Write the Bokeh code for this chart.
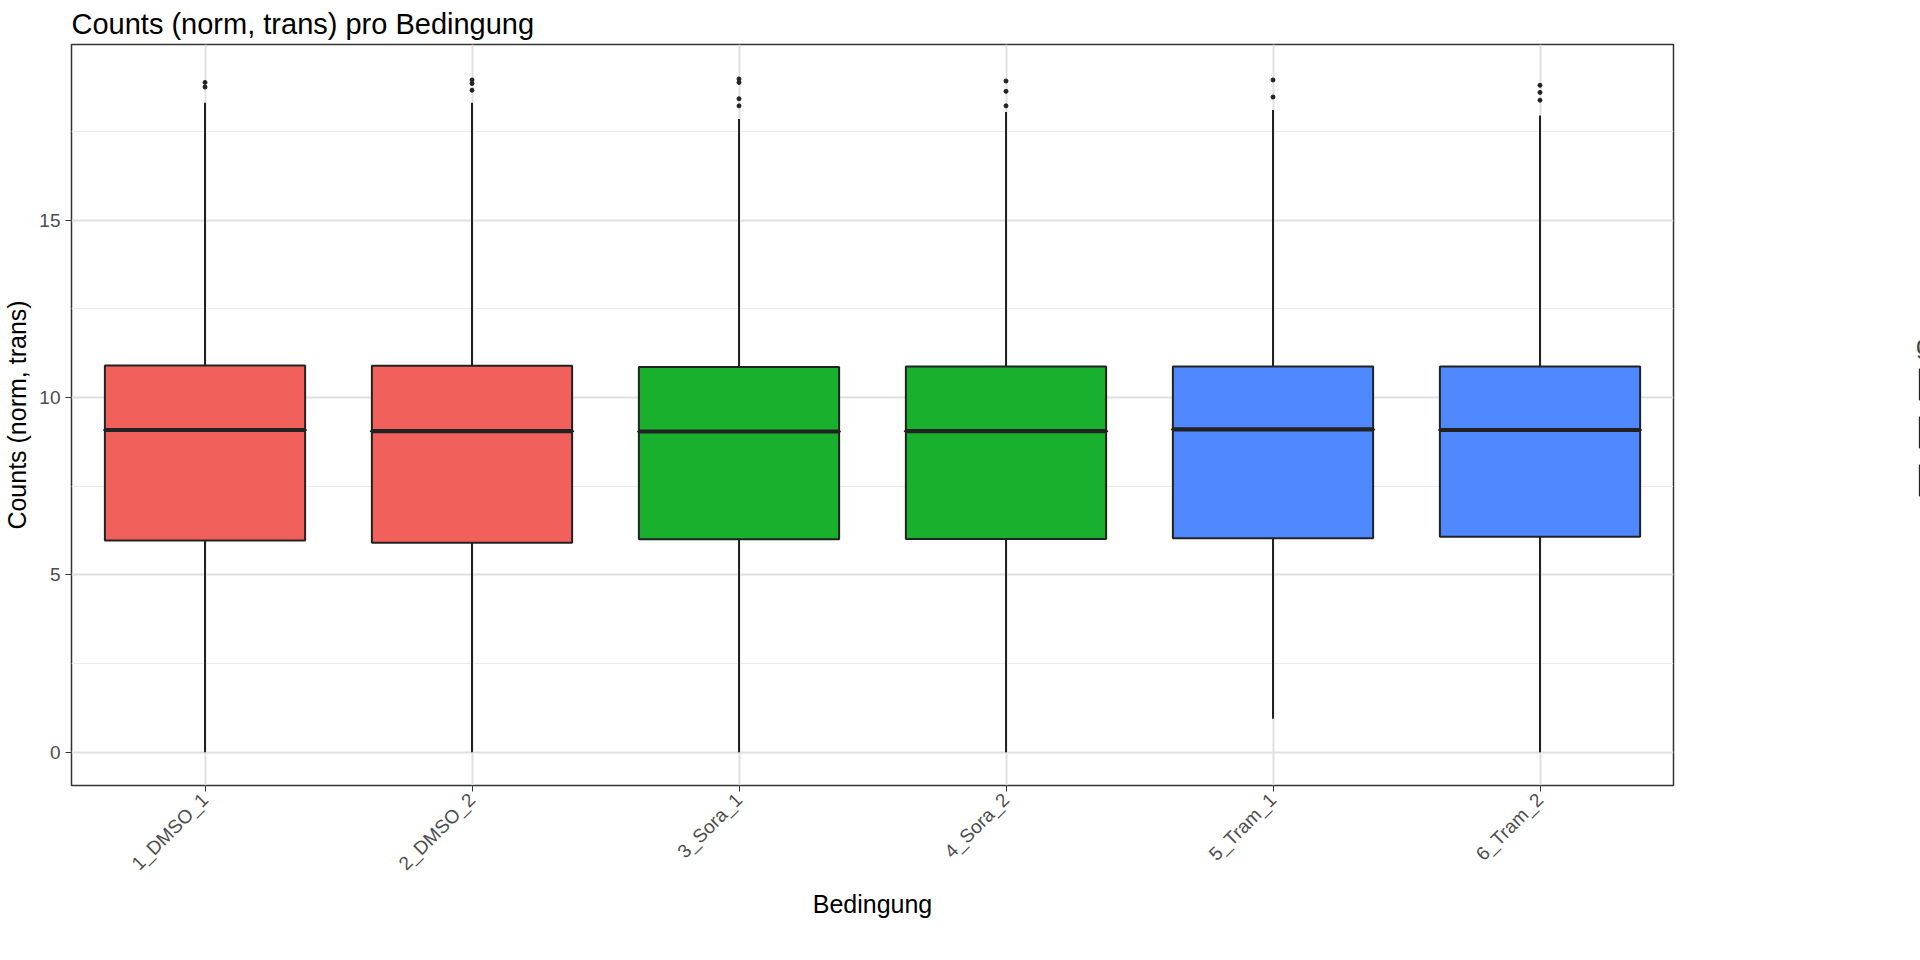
import math
from bokeh.plotting import figure
from bokeh.models import ColumnDataSource, FixedTicker, Range1d
from bokeh.embed import file_html
from bokeh.resources import INLINE

conds = ["1_DMSO_1", "2_DMSO_2", "3_Sora_1", "4_Sora_2", "5_Tram_1", "6_Tram_2"]
groups = ["DMSO", "DMSO", "Sorafenib", "Sorafenib", "Trametinib", "Trametinib"]
q1 = [5.97, 5.90, 6.00, 6.01, 6.03, 6.07]
med = [9.08, 9.05, 9.04, 9.05, 9.10, 9.08]
q3 = [10.90, 10.89, 10.86, 10.87, 10.87, 10.87]
wlo = [0.0, 0.0, 0.0, 0.0, 0.94, 0.0]
whi = [18.31, 18.31, 17.85, 18.05, 18.10, 17.95]
outliers = [[18.75, 18.88], [18.66, 18.85, 18.95], [18.22, 18.42, 18.88, 18.98],
            [18.22, 18.63, 18.92], [18.47, 18.95], [18.38, 18.60, 18.80]]
pal_fill = {"DMSO": "#F2605C", "Sorafenib": "#19B02E", "Trametinib": "#4F88FF"}

p = figure(x_range=conds, frame_width=1602, frame_height=741, output_backend="svg",
           toolbar_location=None, title="Counts (norm, trans) pro Bedingung",
           min_border_left=10, min_border_right=10, min_border_top=10, min_border_bottom=10)
p.y_range = Range1d(-0.94, 19.95)
p.title.text_font = "Liberation Sans"
p.title.text_font_style = "normal"
p.title.text_font_size = "29px"
p.title.text_color = "black"

src = ColumnDataSource(dict(x=conds, g=groups, q1=q1, q3=q3, med=med, wlo=wlo, whi=whi,
                            c=[pal_fill[g] for g in groups]))
p.segment("x", "wlo", "x", "q1", source=src, line_color="#222222", line_width=2)
p.segment("x", "q3", "x", "whi", source=src, line_color="#222222", line_width=2)
p.vbar(x="x", width=0.75, bottom="q1", top="q3", fill_color="c", line_color="#222222",
       line_width=2, source=src, legend_field="g")
p.rect(x="x", y="med", width=0.75, height=0.001, source=src, line_color="#222222", line_width=4)

ox, oy = [], []
for c, os in zip(conds, outliers):
    for v in os:
        ox.append(c); oy.append(v)
p.scatter(ox, oy, size=4, color="#222222")

legend = p.legend[0]
p.center.remove(legend)
legend.title = "group"
legend.title_text_font = "Liberation Sans"
legend.title_text_font_style = "normal"
legend.title_text_font_size = "25px"
legend.label_text_font = "Liberation Sans"
legend.label_text_font_size = "19px"
legend.border_line_color = None
legend.background_fill_alpha = 0
legend.glyph_width = 34
legend.glyph_height = 38
legend.spacing = 10
legend.location = "center"
p.add_layout(legend, "right")

p.xaxis.axis_label = "Bedingung"
p.yaxis.axis_label = "Counts (norm, trans)"
for ax in (p.xaxis[0], p.yaxis[0]):
    ax.axis_label_text_font = "Liberation Sans"
    ax.axis_label_text_font_size = "25px"
    ax.axis_label_text_font_style = "normal"
    ax.axis_label_text_color = "black"
    ax.major_label_text_font = "Liberation Sans"
    ax.major_label_text_font_size = "19px"
    ax.major_label_text_color = "#4D4D4D"
    ax.axis_line_color = None
    ax.major_tick_line_color = "#333333"
    ax.minor_tick_line_color = None
    ax.major_tick_out = 6
    ax.major_tick_in = 0
p.xaxis.major_label_orientation = math.pi / 4
p.yaxis.ticker = FixedTicker(ticks=[0, 5, 10, 15], minor_ticks=[2.5, 7.5, 12.5, 17.5])
p.ygrid.minor_grid_line_color = "#EBEBEB"
p.ygrid.grid_line_color = "#E0E0E0"
p.xgrid.grid_line_color = "#E0E0E0"
p.ygrid.grid_line_width = 2
p.xgrid.grid_line_width = 2
p.outline_line_color = "#333333"
p.outline_line_width = 1.5

open("out.html", "w").write(file_html(p, INLINE))
